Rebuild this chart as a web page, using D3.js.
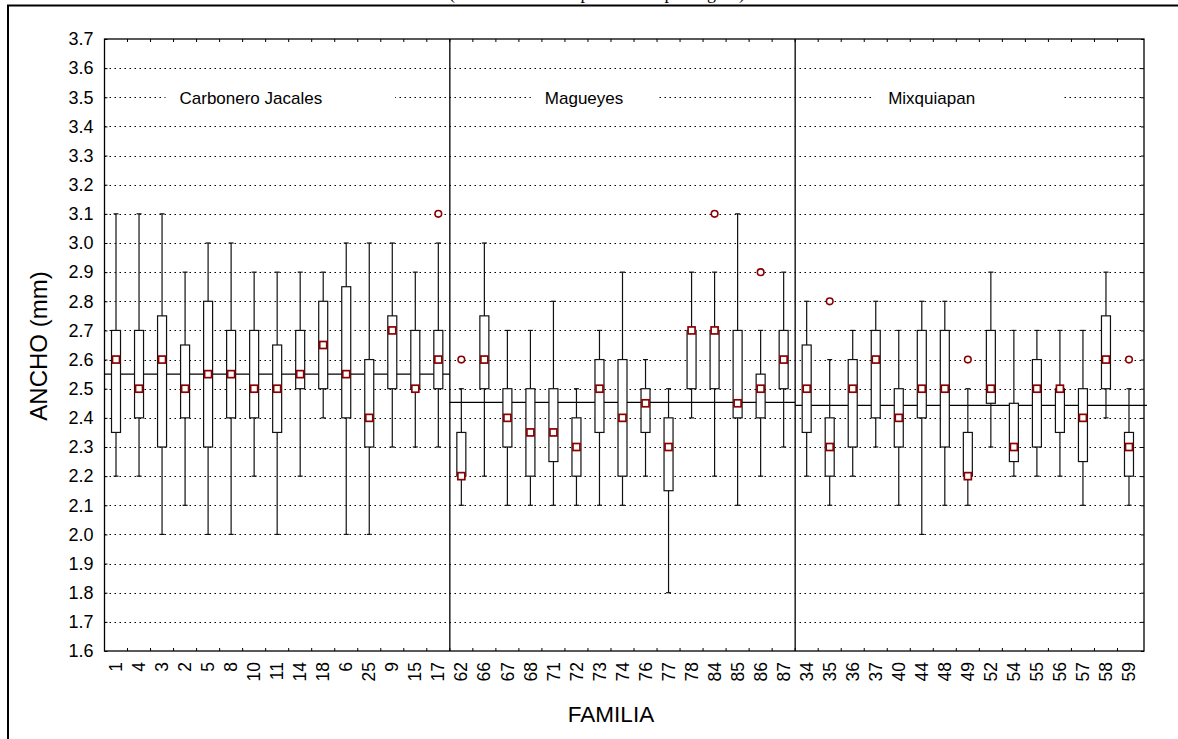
<!DOCTYPE html>
<html>
<head>
<meta charset="utf-8">
<script src="https://cdn.jsdelivr.net/npm/d3@7"></script>
<style>
  body { margin: 0; background: #fff; }
  text { font-family: "Liberation Sans", Arial, sans-serif; }
</style>
</head>
<body>
<script>
// familias en el orden del eje X
const familias = ["1", "4", "3", "2", "5", "8", "10", "11", "14", "18", "6", "25", "9", "15", "17",
  "62", "66", "67", "68", "71", "72", "73", "74", "76", "77", "78", "84", "85", "86", "87",
  "34", "35", "36", "37", "40", "44", "48", "49", "52", "54", "55", "56", "57", "58", "59"];
const grupos = ["Carbonero Jacales", "Magueyes", "Mixquiapan"];
const grupoTam = [15, 15, 15];
const mediaGrupo = [2.55, 2.453, 2.443];

const minimo = [2.2, 2.2, 2.0, 2.1, 2.0, 2.0, 2.2, 2.0, 2.2, 2.4, 2.0, 2.0, 2.3, 2.3, 2.3,
  2.1, 2.2, 2.1, 2.1, 2.1, 2.1, 2.1, 2.1, 2.2, 1.8, 2.4, 2.2, 2.1, 2.2, 2.3,
  2.2, 2.1, 2.2, 2.3, 2.1, 2.0, 2.1, 2.1, 2.3, 2.2, 2.2, 2.2, 2.1, 2.4, 2.1];
const q1 = [2.35, 2.4, 2.3, 2.4, 2.3, 2.4, 2.4, 2.35, 2.5, 2.5, 2.4, 2.3, 2.5, 2.5, 2.5,
  2.2, 2.5, 2.3, 2.2, 2.25, 2.2, 2.35, 2.2, 2.35, 2.15, 2.5, 2.5, 2.4, 2.4, 2.5,
  2.35, 2.2, 2.3, 2.4, 2.3, 2.4, 2.3, 2.2, 2.45, 2.25, 2.3, 2.35, 2.25, 2.5, 2.2];
const mediana = [2.6, 2.5, 2.6, 2.5, 2.55, 2.55, 2.5, 2.5, 2.55, 2.65, 2.55, 2.4, 2.7, 2.5, 2.6,
  2.2, 2.6, 2.4, 2.35, 2.35, 2.3, 2.5, 2.4, 2.45, 2.3, 2.7, 2.7, 2.45, 2.5, 2.6,
  2.5, 2.3, 2.5, 2.6, 2.4, 2.5, 2.5, 2.2, 2.5, 2.3, 2.5, 2.5, 2.4, 2.6, 2.3];
const q3 = [2.7, 2.7, 2.75, 2.65, 2.8, 2.7, 2.7, 2.65, 2.7, 2.8, 2.85, 2.6, 2.75, 2.7, 2.7,
  2.35, 2.75, 2.5, 2.5, 2.5, 2.4, 2.6, 2.6, 2.5, 2.4, 2.7, 2.7, 2.7, 2.55, 2.7,
  2.65, 2.4, 2.6, 2.7, 2.5, 2.7, 2.7, 2.35, 2.7, 2.45, 2.6, 2.5, 2.5, 2.75, 2.35];
const maximo = [3.1, 3.1, 3.1, 2.9, 3.0, 3.0, 2.9, 2.9, 2.9, 2.9, 3.0, 3.0, 3.0, 2.9, 3.0,
  2.5, 3.0, 2.7, 2.7, 2.8, 2.5, 2.7, 2.9, 2.6, 2.5, 2.9, 2.9, 3.1, 2.7, 2.9,
  2.8, 2.6, 2.7, 2.8, 2.7, 2.8, 2.8, 2.5, 2.9, 2.7, 2.7, 2.7, 2.7, 2.9, 2.5];
// valores atipicos [familia, valor]
const atipicos = [["17", 3.1], ["62", 2.6], ["84", 3.1], ["86", 2.9], ["35", 2.8], ["49", 2.6], ["59", 2.6]];

const yTicks = [1.6, 1.7, 1.8, 1.9, 2.0, 2.1, 2.2, 2.3, 2.4, 2.5, 2.6, 2.7, 2.8, 2.9, 3.0,
  3.1, 3.2, 3.3, 3.4, 3.5, 3.6, 3.7];

const W = 1178, H = 739;
const pL = 104.5, pR = 1144, pT = 39, pB = 651;
const rojo = "#8b0000";

const svg = d3.select("body").append("svg")
    .attr("width", W)
    .attr("height", H);

const x = d3.scaleBand().domain(familias).range([pL, 1140.5]);
const y = d3.scaleLinear().domain([1.6, 3.7]).range([pB, pT]);
const cx = f => x(f) + x.bandwidth() / 2;

// marco exterior y titulo (cortado arriba como en el original)
svg.append("text")
    .attr("x", 597).attr("y", -1)
    .attr("text-anchor", "middle")
    .style("font-family", "'Liberation Serif', 'Times New Roman', serif")
    .style("font-size", "18px")
    .text("(ancho de semilla por familia por región)");
svg.append("rect")
    .attr("x", 8).attr("y", 5.5)
    .attr("width", 1300).attr("height", 900)
    .attr("fill", "none").attr("stroke", "#000").attr("stroke-width", 2);

// rejilla punteada
svg.selectAll(".grid")
    .data(yTicks.filter(v => v > 1.6 && v < 3.7))
    .enter()
    .append("line")
    .attr("class", "grid")
    .attr("x1", pL).attr("x2", pR)
    .attr("y1", d => Math.round(y(d)) + 0.5)
    .attr("y2", d => Math.round(y(d)) + 0.5)
    .attr("stroke", "#000")
    .attr("stroke-width", 1)
    .attr("stroke-dasharray", "1.5,3.5");

// etiquetas de grupo con fondo blanco
const labelDx = [75, 95, 93];
const padR = [73, 35, 87];
let inicio = 0;
grupos.forEach((g, k) => {
    const x0 = x(familias[inicio]);
    const lab = svg.append("g");
    const t = lab.append("text")
        .attr("x", x0 + labelDx[k])
        .attr("y", y(3.5) + 6.5)
        .style("font-size", "17px")
        .text(g);
    const bb = t.node().getBBox();
    lab.insert("rect", "text")
        .attr("x", bb.x - 14).attr("y", y(3.5) - 3)
        .attr("width", bb.width + 14 + padR[k]).attr("height", 6)
        .attr("fill", "#fff");
    inicio += grupoTam[k];
});

// lineas de media por grupo
inicio = 0;
grupos.forEach((g, k) => {
    const fin = inicio + grupoTam[k] - 1;
    const xa = k === 0 ? pL : x(familias[inicio]);
    const xb = k === grupos.length - 1 ? pR + 3 : x(familias[fin]) + x.bandwidth();
    svg.append("line")
        .attr("x1", xa).attr("x2", xb)
        .attr("y1", y(mediaGrupo[k])).attr("y2", y(mediaGrupo[k]))
        .attr("stroke", "#000").attr("stroke-width", 1.2);
    inicio += grupoTam[k];
});

// cajas
const cajas = svg.selectAll(".caja")
    .data(familias)
    .enter()
    .append("g")
    .attr("class", "caja");

cajas.append("line")
    .attr("x1", d => cx(d)).attr("x2", d => cx(d))
    .attr("y1", (d, i) => y(minimo[i])).attr("y2", (d, i) => y(maximo[i]))
    .attr("stroke", "#111").attr("stroke-width", 1.2);
cajas.append("line")
    .attr("x1", d => cx(d) - 2.5).attr("x2", d => cx(d) + 2.5)
    .attr("y1", (d, i) => y(minimo[i])).attr("y2", (d, i) => y(minimo[i]))
    .attr("stroke", "#111").attr("stroke-width", 1.2);
cajas.append("line")
    .attr("x1", d => cx(d) - 2.5).attr("x2", d => cx(d) + 2.5)
    .attr("y1", (d, i) => y(maximo[i])).attr("y2", (d, i) => y(maximo[i]))
    .attr("stroke", "#111").attr("stroke-width", 1.2);
cajas.append("rect")
    .attr("x", d => cx(d) - 4.5)
    .attr("width", 9)
    .attr("y", (d, i) => y(q3[i]))
    .attr("height", (d, i) => Math.max(0.5, y(q1[i]) - y(q3[i])))
    .attr("fill", "#fff")
    .attr("stroke", "#111").attr("stroke-width", 1.2);
cajas.append("rect")
    .attr("x", d => cx(d) - 3.5)
    .attr("y", (d, i) => y(mediana[i]) - 3.5)
    .attr("width", 7).attr("height", 7)
    .attr("fill", "#fff")
    .attr("stroke", rojo).attr("stroke-width", 1.7);

svg.selectAll(".atipico")
    .data(atipicos)
    .enter()
    .append("circle")
    .attr("class", "atipico")
    .attr("cx", d => cx(d[0]))
    .attr("cy", d => y(d[1]))
    .attr("r", 3.3)
    .attr("fill", "#fff")
    .attr("stroke", rojo).attr("stroke-width", 1.6);

// divisiones entre grupos
[grupoTam[0], grupoTam[0] + grupoTam[1]].forEach(n => {
    svg.append("line")
        .attr("x1", x(familias[n])).attr("x2", x(familias[n]))
        .attr("y1", pT).attr("y2", pB)
        .attr("stroke", "#000").attr("stroke-width", 1.3);
});

// marco del grafico
svg.append("rect")
    .attr("x", pL).attr("y", pT)
    .attr("width", pR - pL).attr("height", pB - pT)
    .attr("fill", "none").attr("stroke", "#000").attr("stroke-width", 1.3);

// marcas en los limites de cada familia (arriba y abajo)
svg.selectAll(".tickb")
    .data(familias.slice(1))
    .enter()
    .append("line")
    .attr("x1", d => x(d)).attr("x2", d => x(d))
    .attr("y1", pB).attr("y2", pB - 3)
    .attr("stroke", "#000");
svg.selectAll(".ticka")
    .data(familias.slice(1))
    .enter()
    .append("line")
    .attr("x1", d => x(d)).attr("x2", d => x(d))
    .attr("y1", pT).attr("y2", pT + 3)
    .attr("stroke", "#000");

// eje Y
const ejeY = svg.append("g")
    .attr("transform", `translate(${pL},0)`)
    .call(d3.axisLeft(y).tickValues(yTicks).tickFormat(d3.format(".1f")).tickSize(-3).tickSizeOuter(0).tickPadding(11));
ejeY.selectAll("text").style("font-size", "18px").attr("fill", "#000");
ejeY.select(".domain").remove();

const ejeD = svg.append("g")
    .attr("transform", `translate(${pR},0)`)
    .call(d3.axisRight(y).tickValues(yTicks).tickFormat("").tickSize(-3).tickSizeOuter(0));
ejeD.select(".domain").remove();

// eje X
const ejeX = svg.append("g")
    .attr("transform", `translate(0,${pB})`)
    .call(d3.axisBottom(x).tickSize(0));
ejeX.select(".domain").remove();
ejeX.selectAll("text")
    .attr("transform", "rotate(-90)")
    .attr("text-anchor", "end")
    .attr("x", -11)
    .attr("y", 0)
    .attr("dy", "0.35em")
    .attr("fill", "#000")
    .style("font-size", "17.5px");

// titulos de ejes
svg.append("text")
    .attr("x", 611).attr("y", 722)
    .attr("text-anchor", "middle")
    .style("font-size", "22.5px")
    .text("FAMILIA");
svg.append("text")
    .attr("transform", "translate(47,346) rotate(-90)")
    .attr("text-anchor", "middle")
    .style("font-size", "24px")
    .text("ANCHO (mm)");
</script>
</body>
</html>
